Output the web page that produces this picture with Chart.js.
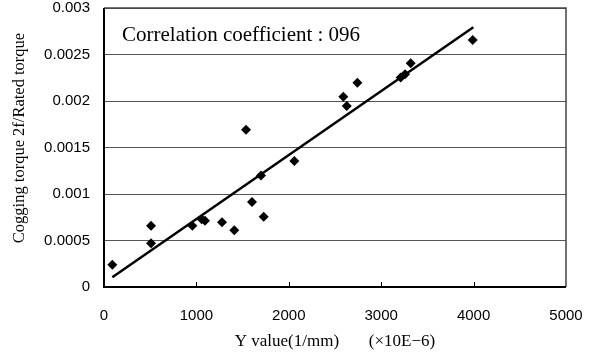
<!DOCTYPE html>
<html>
<head>
<meta charset="utf-8">
<script src="https://cdn.jsdelivr.net/npm/chart.js@4.4.0/dist/chart.umd.min.js"></script>
<style>
  html, body { margin: 0; padding: 0; background: #fff; }
  #wrap { width: 594px; height: 358px; }
</style>
</head>
<body>
<div id="wrap"><canvas id="myChart" width="594" height="358"></canvas></div>
<script>
// measured samples
const yValue = [90, 509, 509, 956, 1057, 1093, 1277, 1410, 1537, 1602, 1699, 1728, 2060, 2590, 2627, 2742, 3211, 3258, 3319, 3990];
const coggingRatio = [0.00024, 0.000659, 0.00047, 0.000659, 0.000728, 0.000713, 0.000696, 0.00061, 0.00169, 0.000914, 0.0012, 0.000756, 0.001355, 0.002046, 0.001946, 0.002197, 0.002254, 0.002287, 0.002405, 0.002656];

// fitted line end points
const trendX = [90, 3997];
const trendY = [0.000104, 0.002792];

const xTickValues = [0, 1000, 2000, 3000, 4000, 5000];
const xTickLabels = ['0', '1000', '2000', '3000', '4000', '5000'];
const yTickValues = [0, 0.0005, 0.001, 0.0015, 0.002, 0.0025, 0.003];
const yTickLabels = ['0', '0.0005', '0.001', '0.0015', '0.002', '0.0025', '0.003'];

const noteText = 'Correlation coefficient : 096';
const yTitle = 'Cogging torque 2f/Rated torque';

const sans = 'Liberation Sans, Arial, sans-serif';
const serif = 'Liberation Serif, Times New Roman, serif';

// frame, inner x ticks, y title and the note
const framePlugin = {
  id: 'frame',
  afterDraw(chart) {
    const { ctx, chartArea: a, scales } = chart;
    ctx.save();
    ctx.strokeStyle = '#000';
    ctx.lineWidth = 1;
    xTickValues.slice(1, -1).forEach(v => {
      const px = Math.round(scales.x.getPixelForValue(v)) + 0.5;
      ctx.beginPath();
      ctx.moveTo(px, a.bottom);
      ctx.lineTo(px, a.bottom - 5);
      ctx.stroke();
    });
    ctx.strokeStyle = '#444';
    ctx.lineWidth = 1.5;
    ctx.beginPath();
    ctx.moveTo(a.left, a.top);
    ctx.lineTo(a.right, a.top);
    ctx.lineTo(a.right, a.bottom);
    ctx.stroke();
    ctx.strokeStyle = '#000';
    ctx.lineWidth = 2;
    ctx.beginPath();
    ctx.moveTo(a.left, a.top);
    ctx.lineTo(a.left, a.bottom);
    ctx.lineTo(a.right, a.bottom);
    ctx.stroke();

    ctx.fillStyle = '#000';
    ctx.font = '21px ' + serif;
    ctx.textAlign = 'left';
    ctx.textBaseline = 'alphabetic';
    ctx.fillText(noteText, a.left + 18, a.top + 33);

    ctx.font = '16.5px ' + serif;
    ctx.textAlign = 'center';
    ctx.textBaseline = 'middle';
    ctx.translate(20, 138);
    ctx.rotate(-Math.PI / 2);
    ctx.fillText(yTitle, 0, 0);
    ctx.restore();
  }
};

new Chart(document.getElementById('myChart'), {
  type: 'scatter',
  data: {
    datasets: [
      {
        label: 'samples',
        data: yValue.map((x, i) => ({ x, y: coggingRatio[i] })),
        pointStyle: 'rectRot',
        pointRadius: 5,
        pointBackgroundColor: '#000',
        pointBorderColor: '#000',
        pointBorderWidth: 0
      },
      {
        label: 'fit',
        type: 'line',
        data: trendX.map((x, i) => ({ x, y: trendY[i] })),
        borderColor: '#000',
        borderWidth: 2.5,
        pointRadius: 0,
        fill: false
      }
    ]
  },
  options: {
    responsive: false,
    animation: false,
    layout: { padding: { top: 8, right: 28, left: 0, bottom: 0 } },
    plugins: { legend: { display: false }, tooltip: { enabled: false } },
    scales: {
      x: {
        type: 'linear',
        min: 0,
        max: 5000,
        afterBuildTicks(s) { s.ticks = xTickValues.map(v => ({ value: v })); },
        afterFit(s) { s.height = 71; s.paddingLeft = 0; s.paddingRight = 0; },
        grid: { display: false, drawTicks: false },
        border: { display: false },
        ticks: {
          color: '#000',
          font: { family: sans, size: 15 },
          padding: 20,
          maxRotation: 0,
          callback: (v) => xTickLabels[xTickValues.indexOf(v)]
        },
        title: {
          display: true,
          text: 'Y value(1/mm)       (×10E−6)',
          color: '#000',
          font: { family: serif, size: 17 },
          padding: { top: 0, bottom: 6 }
        }
      },
      y: {
        type: 'linear',
        min: 0,
        max: 0.003,
        afterBuildTicks(s) { s.ticks = yTickValues.map(v => ({ value: v })); },
        afterFit(s) { s.width = 104; s.paddingTop = 0; s.paddingBottom = 0; },
        grid: { color: '#555', lineWidth: 1, drawTicks: false },
        border: { display: false },
        ticks: {
          color: '#000',
          font: { family: sans, size: 15 },
          padding: 14,
          callback: (v) => yTickLabels[yTickValues.indexOf(v)]
        }
      }
    }
  },
  plugins: [framePlugin]
});
</script>
</body>
</html>
